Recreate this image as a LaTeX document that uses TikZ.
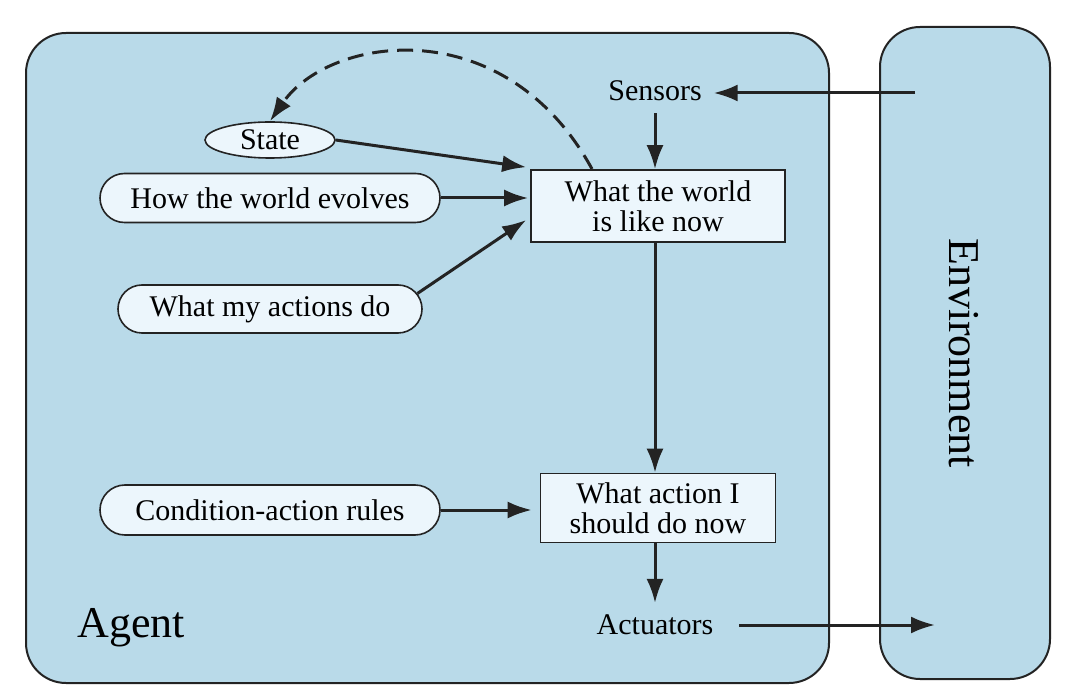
\documentclass[tikz,border=0pt]{standalone}
\usepackage{fontspec}
\setmainfont{Liberation Serif}
\usetikzlibrary{arrows.meta,shapes.geometric,shapes.misc}
\definecolor{agentblue}{RGB}{185,218,233}
\definecolor{paleblue}{RGB}{236,246,252}
\definecolor{inkgray}{RGB}{35,35,35}
\tikzstyle{area}=[draw=inkgray, fill=agentblue, line width=1pt, rounded corners=20pt]
\tikzstyle{oval}=[ellipse, draw=inkgray, fill=paleblue, line width=0.8pt, inner sep=0pt]
\tikzstyle{rule}=[rounded rectangle, draw=inkgray, fill=paleblue, line width=0.8pt, inner sep=0pt]
\tikzstyle{box}=[rectangle, draw=inkgray, fill=paleblue, line width=0.8pt, align=center, inner sep=0pt]
\tikzstyle{port}=[inner sep=0pt, outer sep=6pt]

\begin{document}
\begin{tikzpicture}[x=0.5pt, y=-0.5pt, line width=1.5pt, draw=inkgray,
    >={Latex[length=12pt,width=8.5pt]}, font=\fontsize{15}{15}\selectfont]
                    \useasboundingbox (0,0) rectangle (1075,699);
                    \draw[area] (26,33) rectangle (829,683);
                    \draw[area] (880,27) rectangle (1050,679);
                    \node[font=\fontsize{22}{22}\selectfont] (agent) at (131,628) {Agent};
                    \node[font=\fontsize{22}{22}\selectfont, rotate=-90] (env) at (964,353) {Environment};
                    \node[oval, minimum width=65pt, minimum height=18pt]   (state)   at (270,140) {State};
                    \node[rule, minimum width=170pt, minimum height=24.5pt] (evolves) at (270,198) {How the world evolves};
                    \node[rule, minimum width=152pt, minimum height=24pt]  (effects) at (270,309) {What my actions do};
                    \node[rule, minimum width=170pt, minimum height=25pt]  (rules)   at (270,510) {Condition-action rules};
                    \node[box, minimum width=127pt, minimum height=36pt]   (world)   at (658,206) {What the world\\is like now};
                    \node[box, minimum width=117.5pt, minimum height=34.5pt] (action) at (658,508) {What action I\\should do now};
                    \node[port] (sensors)   at (655,91)  {Sensors};
                    \node[port] (actuators) at (655,625) {Actuators};
                    \coordinate (percept) at (915,93);
                    \coordinate (effect)  at (935,625);
                    \coordinate (loop)    at (592,169);
                    \draw[->]  (percept)--(sensors.east |- percept);
                    \draw[->]  (sensors)--(world.north -| sensors);
                    \draw[->]  (state.east)--([xshift=-2pt,yshift=1pt]world.north west);
                    \draw[->]  (evolves.east)--([xshift=-1pt]world.west |- evolves.east);
                    \draw[->]  (effects.6)--([xshift=-2pt,yshift=-7pt]world.west);
                    \draw[->]  (world.south -| sensors)--(action.north -| sensors);
                    \draw[->]  (rules.east)--([xshift=-4pt]action.west |- rules.east);
                    \draw[->]  (action.south -| sensors)--(actuators.north);
                    \draw[->]  ([xshift=7pt]actuators.east)--(effect);
                    \draw[->, dash pattern=on 8pt off 4.5pt]  (loop) .. controls (505,10) and (330,35) .. (state.north);
                \end{tikzpicture}
\end{document}
